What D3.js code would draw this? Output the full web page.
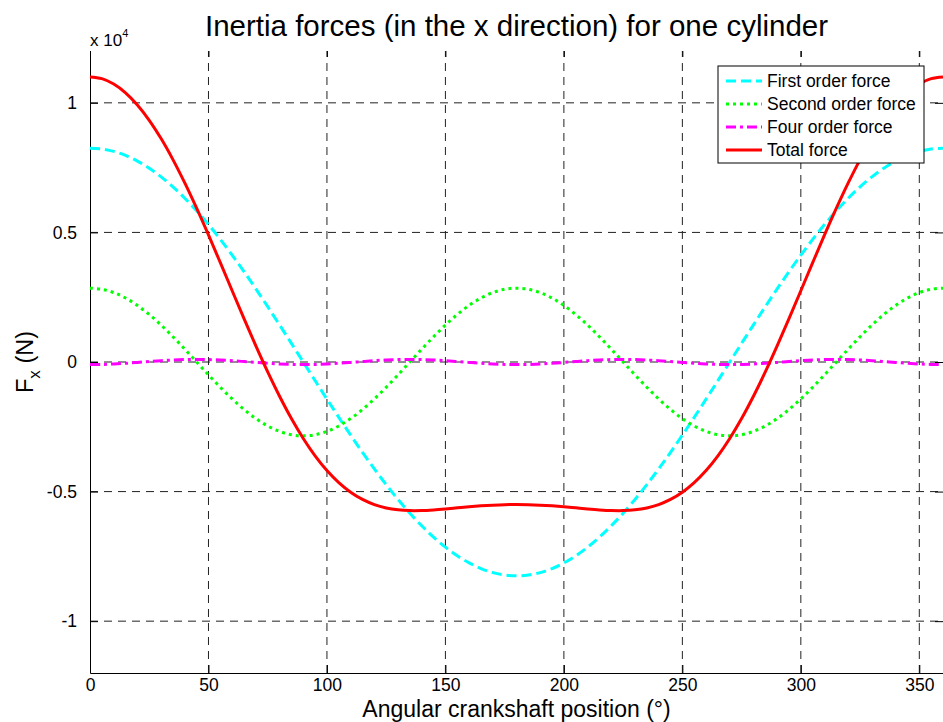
<!DOCTYPE html>
<html>
<head>
<meta charset="utf-8">
<script src="https://cdnjs.cloudflare.com/ajax/libs/d3/7.8.5/d3.min.js"></script>
<style>
  body { margin: 0; background: #fff; }
  svg { display: block; font-family: "Liberation Sans", Arial, sans-serif; }
</style>
</head>
<body>
<div id="chart"></div>
<script>
// crank angle (deg), sampled every 5 degrees
var angles = [0,5,10,15,20,25,30,35,40,45,50,55,60,65,70,75,80,85,90,95,100,105,110,115,120,125,130,135,140,145,150,155,160,165,170,175,180,
              185,190,195,200,205,210,215,220,225,230,235,240,245,250,255,260,265,270,275,280,285,290,295,300,305,310,315,320,325,330,335,340,345,350,355,360]

var firstOrder = [8250,8219,8125,7969,7752,7477,7145,6758,6320,5834,5303,4732,4125,3487,2822,2135,1433,719,0,-719,-1433,-2135,-2822,-3487,-4125,-4732,-5303,-5834,-6320,-6758,-7145,-7477,-7752,-7969,-8125,-8219,-8250,
                  -8219,-8125,-7969,-7752,-7477,-7145,-6758,-6320,-5834,-5303,-4732,-4125,-3487,-2822,-2135,-1433,-719,0,719,1433,2135,2822,3487,4125,4732,5303,5834,6320,6758,7145,7477,7752,7969,8125,8219,8250]

var secondOrder = [2850,2807,2678,2468,2183,1832,1425,975,495,0,-495,-975,-1425,-1832,-2183,-2468,-2678,-2807,-2850,-2807,-2678,-2468,-2183,-1832,-1425,-975,-495,0,495,975,1425,1832,2183,2468,2678,2807,2850,
                   2807,2678,2468,2183,1832,1425,975,495,0,-495,-975,-1425,-1832,-2183,-2468,-2678,-2807,-2850,-2807,-2678,-2468,-2183,-1832,-1425,-975,-495,0,495,975,1425,1832,2183,2468,2678,2807,2850]

var fourOrder = [-100,-94,-77,-50,-17,17,50,77,94,100,94,77,50,17,-17,-50,-77,-94,-100,
                 -94,-77,-50,-17,17,50,77,94,100,94,77,50,17,-17,-50,-77,-94,-100,
                 -94,-77,-50,-17,17,50,77,94,100,94,77,50,17,-17,-50,-77,-94,-100,
                 -94,-77,-50,-17,17,50,77,94,100,94,77,50,17,-17,-50,-77,-94,-100]

var totalForce = [11000,10932,10726,10387,9918,9326,8620,7810,6909,5934,4902,3834,2750,1672,622,-383,-1322,-2182,-2950,-3620,-4188,-4653,-5022,-5302,-5500,-5630,-5704,-5734,-5731,-5706,-5670,-5628,-5586,-5551,-5524,-5506,-5500,
                  -5506,-5524,-5551,-5586,-5628,-5670,-5706,-5731,-5734,-5704,-5630,-5500,-5302,-5022,-4653,-4188,-3620,-2950,-2182,-1322,-383,622,1672,2750,3834,4902,5934,6909,7810,8620,9326,9918,10387,10726,10932,11000]

var xTicks = [0,50,100,150,200,250,300,350]
var yTicks = [-10000,-5000,0,5000,10000]
var yTickLabels = ["-1","-0.5","0","0.5","1"]

var seriesNames = ["First order force","Second order force","Four order force","Total force"]

function makeChart() {
    var width = 943, height = 722
    var margin = {top: 51, right: 0, bottom: 49, left: 90}

    var svg = d3.select("#chart").append("svg")
        .attr("width", width)
        .attr("height", height)

    var x = d3.scaleLinear().domain([0, 360]).range([margin.left, width - margin.right])
    var y = d3.scaleLinear().domain([-12000, 12000]).range([height - margin.bottom, margin.top])

    // grid
    svg.selectAll(".vgrid")
        .data(xTicks.slice(1))
        .enter().append("line")
        .attr("x1", function(d) { return x(d) })
        .attr("x2", function(d) { return x(d) })
        .attr("y1", y(-12000))
        .attr("y2", y(12000))
        .attr("stroke", "#222")
        .attr("stroke-dasharray", "8,6")
    svg.selectAll(".hgrid")
        .data(yTicks)
        .enter().append("line")
        .attr("x1", x(0))
        .attr("x2", x(360))
        .attr("y1", function(d) { return y(d) })
        .attr("y2", function(d) { return y(d) })
        .attr("stroke", "#222")
        .attr("stroke-dasharray", "8,6")

    // axes, inward ticks
    var bottomAx = svg.append("g")
        .attr("transform", "translate(0," + y(-12000) + ")")
        .call(d3.axisBottom(x).tickValues(xTicks).tickSize(-8).tickPadding(6).tickSizeOuter(0))
    var topAx = svg.append("g")
        .attr("transform", "translate(0," + y(12000) + ")")
        .call(d3.axisTop(x).tickValues(xTicks).tickSize(-6).tickFormat("").tickSizeOuter(0))
    var leftAx = svg.append("g")
        .attr("transform", "translate(" + x(0) + ",0)")
        .call(d3.axisLeft(y).tickValues(yTicks).tickSize(-8).tickPadding(13).tickSizeOuter(0)
            .tickFormat(function(d, i) { return yTickLabels[i] }))
    var rightAx = svg.append("g")
        .attr("transform", "translate(" + x(360) + ",0)")
        .call(d3.axisRight(y).tickValues(yTicks).tickSize(-8).tickFormat("").tickSizeOuter(0))

    svg.selectAll(".tick text")
        .style("font-size", "17.5px")
        .style("font-family", "Liberation Sans, Arial, sans-serif")
        .attr("fill", "#000")
    svg.selectAll(".domain").attr("stroke", "#000")
    // no top/right box line in the reference
    topAx.select(".domain").remove()
    rightAx.select(".domain").remove()

    var series = [
        {name: seriesNames[0], values: firstOrder, color: "#00ffff", dash: "10,5", w: 3},
        {name: seriesNames[1], values: secondOrder, color: "#00ff00", dash: "3,4", w: 3},
        {name: seriesNames[2], values: fourOrder, color: "#ff00ff", dash: "10,4,3,4", w: 3},
        {name: seriesNames[3], values: totalForce, color: "#ff0000", dash: null, w: 3}
    ]

    var line = d3.line()
        .x(function(d, i) { return x(angles[i]) })
        .y(function(d) { return y(d) })
        .curve(d3.curveCatmullRom)

    series.forEach(function(s) {
        svg.append("path")
            .datum(s.values)
            .attr("fill", "none")
            .attr("stroke", s.color)
            .attr("stroke-width", s.w)
            .attr("stroke-dasharray", s.dash)
            .attr("d", line)
    })

    // legend
    var lg = svg.append("g").attr("transform", "translate(718,66)")
    lg.append("rect")
        .attr("width", 206).attr("height", 97)
        .attr("fill", "#fff").attr("stroke", "#000")
    series.forEach(function(s, i) {
        var cy = 15 + i * 23
        lg.append("line")
            .attr("x1", 8).attr("x2", 44)
            .attr("y1", cy).attr("y2", cy)
            .attr("stroke", s.color)
            .attr("stroke-width", s.w)
            .attr("stroke-dasharray", s.dash)
        lg.append("text")
            .attr("x", 49).attr("y", cy + 6)
            .style("font-size", "17.5px")
            .text(s.name)
    })

    // titles
    svg.append("text")
        .attr("x", (x(0) + x(360)) / 2)
        .attr("y", 36)
        .attr("text-anchor", "middle")
        .style("font-size", "29.5px")
        .text("Inertia forces (in the x direction) for one cylinder")

    svg.append("text")
        .attr("x", (x(0) + x(360)) / 2)
        .attr("y", 717)
        .attr("text-anchor", "middle")
        .style("font-size", "23px")
        .text("Angular crankshaft position (°)")

    var yl = svg.append("text")
        .attr("transform", "translate(33," + y(0) + ") rotate(-90)")
        .attr("text-anchor", "middle")
        .style("font-size", "23.5px")
    yl.append("tspan").text("F")
    yl.append("tspan").attr("dy", 7).style("font-size", "17px").text("x")
    yl.append("tspan").attr("dy", -7).text(" (N)")

    var ex = svg.append("text")
        .attr("x", 90).attr("y", 46)
        .style("font-size", "17px")
    ex.append("tspan").text("x 10")
    ex.append("tspan").attr("dy", -9).style("font-size", "11px").text("4")
}

makeChart()
</script>
</body>
</html>
